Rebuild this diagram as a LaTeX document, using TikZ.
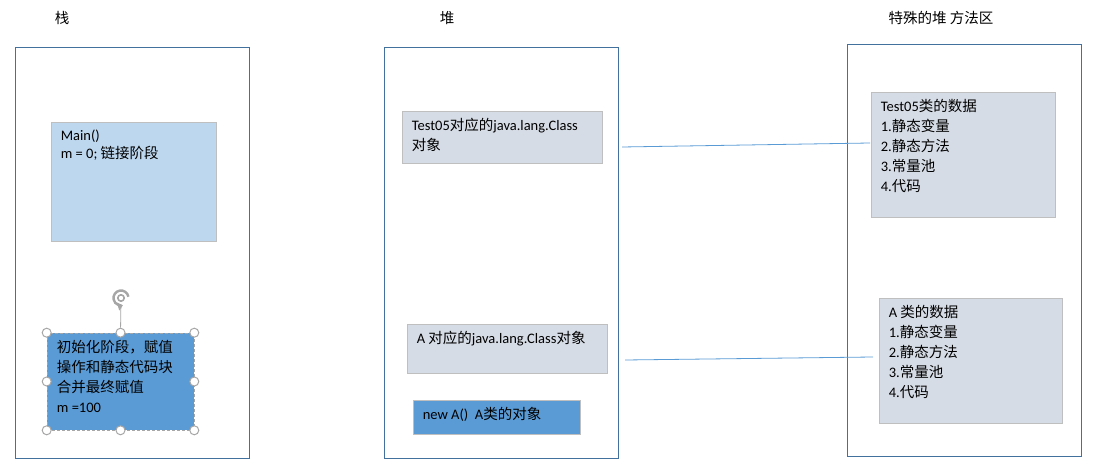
\documentclass[tikz,border=0pt]{standalone}
\usepackage{fontspec}
\setmainfont{Carlito}
\newfontfamily\cjk{Noto Sans CJK SC}
\newcommand{\zh}[1]{{\cjk #1}}
\usetikzlibrary{arrows.meta,positioning}
\definecolor{framecol}{HTML}{41719C}
\definecolor{edgecol}{HTML}{BFBFBF}
\definecolor{lightfill}{HTML}{BDD7EE}
\definecolor{grayfill}{HTML}{D6DCE5}
\definecolor{midfill}{HTML}{5B9BD5}
\definecolor{handlecol}{HTML}{A6A6A6}
\tikzset{
  area/.style={draw=framecol,line width=0.8pt},
  cell/.style={draw=edgecol,line width=0.8pt,fill=grayfill},
  title/.style={inner sep=0pt,font=\fontsize{14.5}{16}\selectfont},
  txt/.style={inner sep=0pt,anchor=north west,align=left,xshift=10pt,yshift=-7pt,
    font=\fontsize{14.5}{20}\selectfont},
  handle/.style={circle,draw=handlecol,fill=white,line width=1pt,inner sep=0pt,minimum size=9pt},
  link/.style={draw=midfill,line width=0.8pt}
}
\begin{document}
\begin{tikzpicture}[x=1pt,y=-1pt]
\useasboundingbox (0,0) rectangle (1095,470);
%% titles
\node[title] (tstack) at (62,18) {\zh{栈}};
\node[title] (theap) at (447,18) {\zh{堆}};
\node[title] (tmethod) at (941,18) {\zh{特殊的堆 方法区}};
%% three areas
\node[area,minimum width=234,minimum height=411] (stack) at (132,252.5) {};
\node[area,minimum width=234,minimum height=411] (heap) at (501,252.5) {};
\node[area,minimum width=234,minimum height=412] (method) at (964,250) {};
%% stack
\node[cell,fill=lightfill,minimum width=165,minimum height=119] (mainbox) at (133.5,181.5) {};
\node[txt,font=\fontsize{14.5}{18.5}\selectfont] (maintxt) at (mainbox.north west)
  {Main()\zh{\vphantom{国}}\\m = 0; \zh{链接阶段}};
\node[draw=handlecol,densely dashed,line width=0.6pt,fill=midfill,
  minimum width=147,minimum height=97] (init) at (120.5,381.5) {};
\node[txt] (inittxt) at (init.north west)
  {\zh{初始化阶段，赋值}\\\zh{操作和静态代码块}\\\zh{合并最终赋值}\\m =100};
\node[circle,inner sep=0pt,minimum size=18pt] (rot) at (121,298) {};
\draw[handlecol,line width=2.4pt,-{Triangle[length=5pt,width=8pt]}]
  (rot.center) ++(10:7.5pt) arc[start angle=10,end angle=285,radius=7.5pt];
\draw[handlecol,line width=1.6pt] (rot.center) circle[radius=3.2pt];
\foreach \a [count=\i] in {north west,north,north east,east,south east,south,south west,west}
  \node[handle] (h\i) at (init.\a) {};
\draw[handlecol,line width=0.8pt] (h2) -- (rot);
%% heap
\node[cell,minimum width=200,minimum height=52] (cls05) at (502,137) {};
\node[txt] (cls05txt) at (cls05.north west) {Test05\zh{对应的}java.lang.Class\\\zh{对象}};
\node[cell,minimum width=200,minimum height=49] (clsA) at (507,348.5) {};
\node[txt] (clsAtxt) at (clsA.north west) {A \zh{对应的}java.lang.Class\zh{对象}};
\node[cell,fill=midfill,minimum width=167,minimum height=34] (objA) at (496.5,417) {};
\node[txt] (objAtxt) at (objA.north west) {new A()\ \ A\zh{类的对象}};
%% method area
\node[cell,minimum width=184,minimum height=125] (data05) at (963,154.5) {};
\node[txt] (data05txt) at (data05.north west)
  {Test05\zh{类的数据}\\1.\zh{静态变量}\\2.\zh{静态方法}\\3.\zh{常量池}\\4.\zh{代码}};
\node[cell,minimum width=183,minimum height=125] (dataA) at (970.5,360.5) {};
\node[txt] (dataAtxt) at (dataA.north west)
  {A \zh{类的数据}\\1.\zh{静态变量}\\2.\zh{静态方法}\\3.\zh{常量池}\\4.\zh{代码}};
%% links
\coordinate (l05a) at (622,147);
\coordinate (l05b) at (870,143);
\coordinate (lAa) at (625,360);
\coordinate (lAb) at (873,357);
\draw[link] (l05a) -- (l05b);
\draw[link] (lAa) -- (lAb);
\end{tikzpicture}
\end{document}
